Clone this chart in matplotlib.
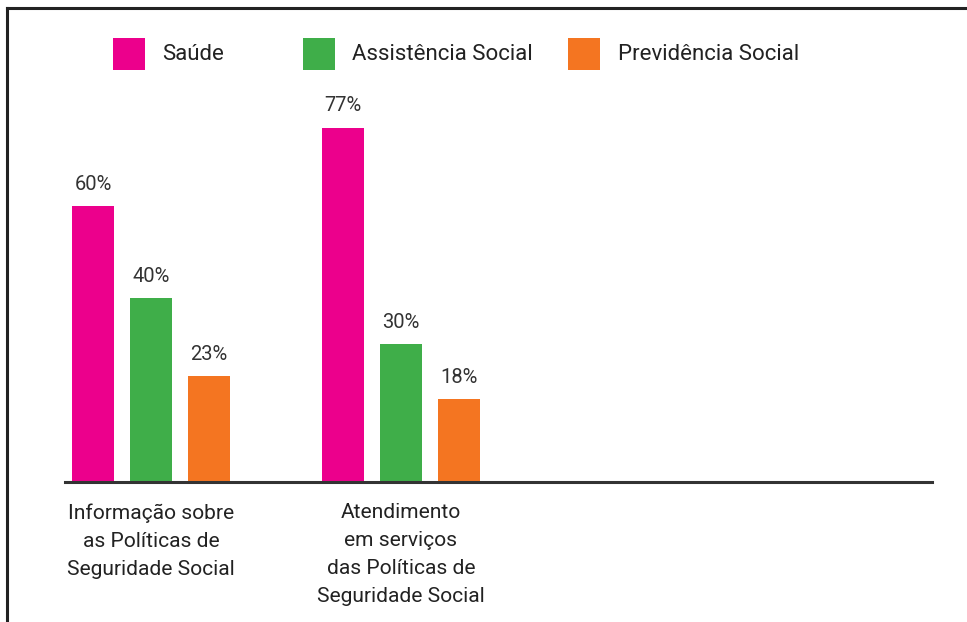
import matplotlib
matplotlib.use("Agg")
import matplotlib.pyplot as plt
from matplotlib.patches import Rectangle
from matplotlib.lines import Line2D
import numpy as np

categories = ["Informação sobre\nas Políticas de\nSeguridade Social",
              "Atendimento\nem serviços\ndas Políticas de\nSeguridade Social"]
series = ["Saúde", "Assistência Social", "Previdência Social"]
values = {
    "Saúde": [60, 77],
    "Assistência Social": [40, 30],
    "Previdência Social": [23, 18],
}
colors = ["#EC008C", "#3FAE49", "#F47521"]

W, H = 967, 622
plt.rcParams['font.family'] = ['Roboto', 'DejaVu Sans']
fig = plt.figure(figsize=(W / 100, H / 100), dpi=100)

def fx(px):
    return px / W

def fy(py):
    return 1 - py / H

SCALE = 4.6  # px per percent
ax = fig.add_axes([fx(65), fy(482), fx(932 - 65), (482 - 20) / H])
ax.set_xlim((65 - 151) / 250, (932 - 151) / 250)
ax.set_ylim(0, 462 / SCALE)
ax.axis('off')

x = np.arange(len(categories))
off = 58 / 250
bw = 42 / 250
for i, (s, c) in enumerate(zip(series, colors)):
    xs = x + (i - 1) * off
    ax.bar(xs, values[s], width=bw, color=c, linewidth=0)
    for xi, v in zip(xs, values[s]):
        ax.text(xi, v + 22 / SCALE, f"{v}%", ha='center', va='center',
                fontsize=14.5, color='#333333')

ax.axhline(0, color='#333333', linewidth=2.2, clip_on=False)
for xi, lab in zip(x, categories):
    ax.text(xi, -21 / SCALE, lab, ha='center', va='top', fontsize=15.1,
            color='#222222', linespacing=1.6)

# legend (manual)
leg_sq = [113, 303, 568]
leg_tx = [162, 352, 618]
for sx, tx, s, c in zip(leg_sq, leg_tx, series, colors):
    fig.patches.append(Rectangle((fx(sx), fy(70)), fx(32), 32 / H,
                                 transform=fig.transFigure, color=c, lw=0))
    fig.text(fx(tx), fy(54), s, ha='left', va='center', fontsize=16,
             color='#222222')

# frame lines (left & top)
fig.add_artist(Line2D([fx(7), fx(7)], [0, fy(8)], color='#222222', lw=2.2,
                      transform=fig.transFigure, solid_capstyle='projecting'))
fig.add_artist(Line2D([fx(7), 1], [fy(8), fy(8)], color='#222222', lw=2.2,
                      transform=fig.transFigure, solid_capstyle='projecting'))

fig.savefig("out.png", dpi=100)
